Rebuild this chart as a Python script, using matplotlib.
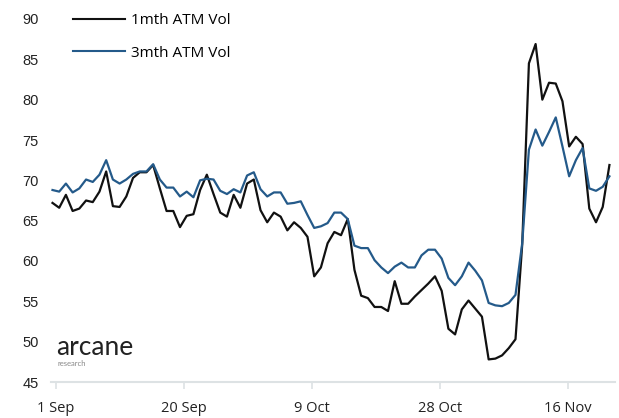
import matplotlib
matplotlib.use("Agg")
import matplotlib.pyplot as plt
import numpy as np

vol_1m = [67.2, 66.6, 68.2, 66.2, 66.5, 67.5, 67.3, 68.6, 71.1, 66.8,
          66.7, 68.0, 70.3, 71.0, 71.0, 71.9, 69.0, 66.2, 66.2, 64.2,
          65.6, 65.8, 68.8, 70.7, 68.3, 66.0, 65.5, 68.2, 66.6, 69.6,
          70.1, 66.3, 64.8, 66.0, 65.5, 63.8, 64.8, 64.1, 63.0, 58.1,
          59.2, 62.2, 63.6, 63.2, 65.2, 58.9, 55.7, 55.4, 54.3, 54.3,
          53.8, 57.5, 54.7, 54.7, 55.6, 56.4, 57.2, 58.1, 56.3, 51.6,
          50.9, 54.0, 55.1, 54.1, 53.1, 47.8, 47.9, 48.3, 49.2, 50.3,
          62.0, 84.5, 86.9, 80.0, 82.1, 82.0, 79.8, 74.2, 75.4, 74.5,
          66.5, 64.8, 66.7, 71.9]

vol_3m = [68.8, 68.6, 69.6, 68.5, 69.0, 70.1, 69.8, 70.7, 72.5, 70.1,
          69.6, 70.1, 70.8, 71.1, 71.1, 72.0, 70.1, 69.1, 69.1, 68.0,
          68.6, 67.9, 70.0, 70.2, 70.1, 68.7, 68.3, 68.9, 68.5, 70.6,
          71.0, 68.9, 68.0, 68.5, 68.5, 67.1, 67.2, 67.4, 65.7, 64.1,
          64.3, 64.7, 66.0, 66.0, 65.2, 61.9, 61.6, 61.6, 60.1, 59.2,
          58.5, 59.3, 59.8, 59.2, 59.2, 60.7, 61.4, 61.4, 60.3, 57.9,
          57.0, 58.1, 59.8, 58.8, 57.6, 54.8, 54.5, 54.4, 54.8, 55.8,
          62.2, 73.8, 76.3, 74.3, 76.0, 77.8, 74.2, 70.5, 72.5, 74.0,
          69.0, 68.7, 69.2, 70.5]

x_labels = ["1 Sep", "20 Sep", "9 Oct", "28 Oct", "16 Nov"]
y_ticks = [45, 50, 55, 60, 65, 70, 75, 80, 85, 90]
series_names = ["1mth ATM Vol", "3mth ATM Vol"]

W, H = 619, 418
fig = plt.figure(figsize=(W / 100, H / 100), dpi=100)
ax_left, ax_right, ax_top, ax_bottom = 51, 615, 19, 382
ax = fig.add_axes([ax_left / W, 1 - ax_bottom / H, (ax_right - ax_left) / W, (ax_bottom - ax_top) / H])

x = np.arange(len(vol_1m))
l1, = ax.plot(x, vol_1m, color="#111111", lw=1.6, label=series_names[0], clip_on=False)
l2, = ax.plot(x, vol_3m, color="#245a8a", lw=1.6, label=series_names[1], clip_on=False)

px_per_pt = 6.71
first_px = 52.5
ax.set_ylim(45, 90)
ax.set_xlim((ax_left - first_px) / px_per_pt, (ax_right - first_px) / px_per_pt)
ax.set_yticks(y_ticks)
ax.set_yticklabels([str(v) for v in y_ticks], fontsize=10.5, family="Liberation Sans", color="#222222")
ax.tick_params(axis="y", length=0, pad=9)

tick_pos = [0.5 + 19.07 * k for k in range(len(x_labels))]
ax.set_xticks(tick_pos)
ax.set_xticklabels(x_labels, fontsize=10.5, family="Open Sans", color="#222222")
ax.tick_params(axis="x", length=5, width=1.2, color="#dde2e4", pad=9, direction="out")

for s in ["top", "right", "left"]:
    ax.spines[s].set_visible(False)
ax.spines["bottom"].set_color("#dde2e4")
ax.spines["bottom"].set_linewidth(1.5)

leg = fig.legend(handles=[l1, l2], loc="upper left", bbox_to_anchor=(73 / W, 1 - 13 / H),
                 frameon=False, handlelength=3.4, handletextpad=0.4,
                 labelspacing=1.15, borderpad=0, borderaxespad=0,
                 prop={"family": "Open Sans", "size": 11})
for h in leg.legend_handles:
    h.set_linewidth(1.5)

fig.text(56 / W, 1 - 355 / H, "arcane", fontsize=19, family="Lato", color="#222222",
         ha="left", va="baseline")
fig.text(57 / W, 1 - 366 / H, "research", fontsize=5.5, family="Lato", color="#888888",
         ha="left", va="baseline")

fig.savefig("out.png", dpi=100)
